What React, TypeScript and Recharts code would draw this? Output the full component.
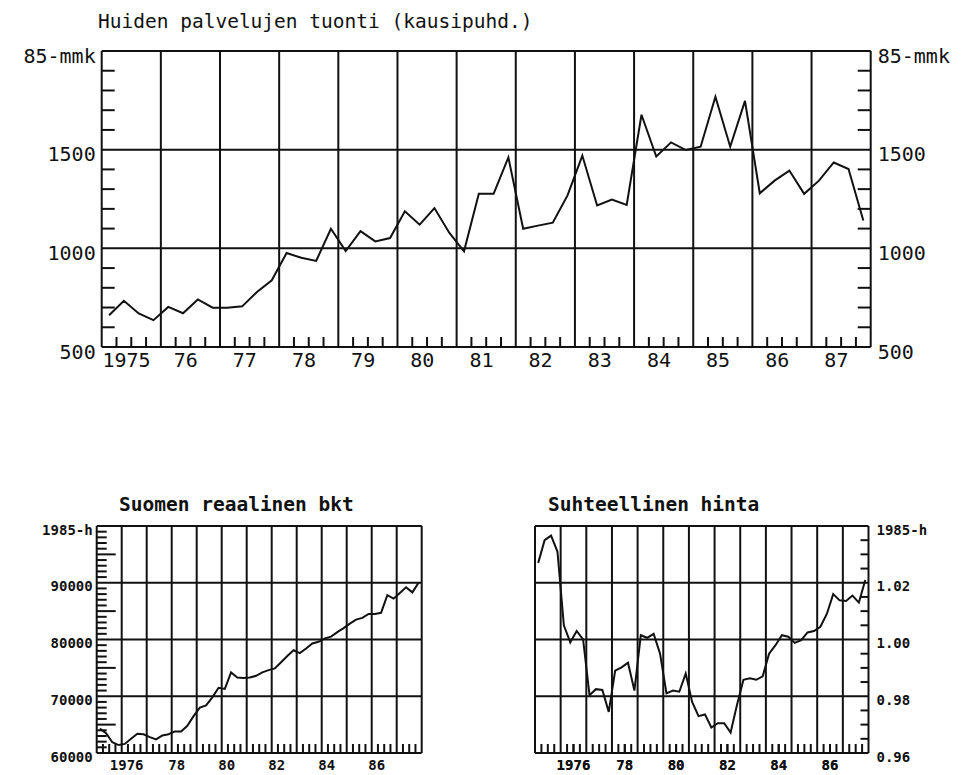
import React from "react"
import { LineChart, Line, XAxis, YAxis, ReferenceLine } from "recharts"

const FONT = '"DejaVu Sans Mono", "Liberation Mono", monospace'
const INK = "#111"

const years = [1975, 1976, 1977, 1978, 1979, 1980, 1981, 1982, 1983, 1984, 1985, 1986, 1987]
const yearEdges = [1975, 1976, 1977, 1978, 1979, 1980, 1981, 1982, 1983, 1984, 1985, 1986, 1987, 1988]
const topYearLabels = ["1975", "76", "77", "78", "79", "80", "81", "82", "83", "84", "85", "86", "87"]
const smallYears = [1976, 1978, 1980, 1982, 1984, 1986]
const smallYearLabels = ["1976", "78", "80", "82", "84", "86"]

// muiden palvelujen tuonti, 85-mmk, quarterly 1975-1987
const imports = [
  661, 734, 670, 636,
  703, 671, 741, 699,
  699, 706, 779, 838,
  976, 952, 936, 1099,
  986, 1087, 1035, 1052,
  1188, 1120, 1204, 1079,
  985, 1276, 1276, 1461,
  1099, 1115, 1130, 1268,
  1470, 1217, 1247, 1220,
  1677, 1465, 1537, 1498,
  1515, 1768, 1515, 1747,
  1279, 1343, 1394, 1276,
  1343, 1435, 1402, 1141,
]

// suomen reaalinen bkt, 1985-h
const gdp = [
  64300, 63500, 61900, 61400,
  61600, 62500, 63400, 63300,
  62800, 62400, 63100, 63300,
  63800, 63800, 64800, 66500,
  68000, 68400, 69800, 71500,
  71300, 74200, 73300, 73200,
  73300, 73600, 74200, 74600,
  74900, 76000, 77100, 78100,
  77600, 78400, 79300, 79600,
  80200, 80500, 81300, 82000,
  82800, 83500, 83800, 84500,
  84500, 84700, 87800, 87200,
  88200, 89200, 88300, 90000,
]

// suhteellinen hinta, 1985-h
const relPrice = [
  1.027, 1.035, 1.0366, 1.031,
  1.005, 0.999, 1.003, 1.0,
  0.9804, 0.9825, 0.9822, 0.9745,
  0.989, 0.9902, 0.9918, 0.982,
  1.0015, 1.0006, 1.002, 0.995,
  0.981, 0.982, 0.9816, 0.988,
  0.978, 0.973, 0.9736, 0.969,
  0.9705, 0.9705, 0.9672, 0.977,
  0.9858, 0.9863, 0.9858, 0.987,
  0.995, 0.998, 1.0015, 1.001,
  0.9988, 0.9998, 1.0025, 1.003,
  1.0045, 1.009, 1.016, 1.0138,
  1.0136, 1.0155, 1.013, 1.021,
]

const topYTicks = [500, 1000, 1500, 2000]
const topYLabels = ["500", "1000", "1500", "85-mmk"]
const gdpYTicks = [60000, 70000, 80000, 90000, 100000]
const gdpYLabels = ["60000", "70000", "80000", "90000", "1985-h"]
const priceYTicks = [0.96, 0.98, 1.0, 1.02, 1.04]
const priceYLabels = ["0.96", "0.98", "1.00", "1.02", "1985-h"]

const key = (v: number) => String(Math.round(v * 10000))

const quarterX = years.flatMap((y) => [0.125, 0.375, 0.625, 0.875].map((f) => y + f))
const quarterTicks = years.flatMap((y) => [0.25, 0.5, 0.75].map((f) => y + f))

const topData = quarterX.map((t, i) => ({ t, v: imports[i] }))
const gdpData = quarterX.map((t, i) => ({ t, v: gdp[i] }))
const priceData = quarterX.map((t, i) => ({ t, v: relPrice[i] }))

type Side = "left" | "right" | "bottom"

interface TickSpec {
  side: Side
  marks: Map<string, number>
  labels: Map<string, string>
  fontSize: number
  bold?: boolean
  gap: number
  shift: number
}

function tickRenderer(spec: TickSpec) {
  return (p: any) => {
    const k = key(p.payload.value)
    const len = spec.marks.get(k)
    const text = spec.labels.get(k)
    const x = p.x as number
    const y = p.y as number
    let line = null
    let label = null
    if (len) {
      if (spec.side === "left") line = <line x1={x} x2={x + len} y1={y} y2={y} stroke={INK} strokeWidth={2} />
      else if (spec.side === "right") line = <line x1={x} x2={x - len} y1={y} y2={y} stroke={INK} strokeWidth={2} />
      else line = <line x1={x} x2={x} y1={y} y2={y - len} stroke={INK} strokeWidth={2} />
    }
    if (text) {
      const common = {
        fontFamily: FONT,
        fontSize: spec.fontSize,
        fontWeight: spec.bold ? 700 : 400,
        fill: INK,
      }
      if (spec.side === "left")
        label = <text x={x - spec.gap} y={y + spec.shift} textAnchor="end" {...common}>{text}</text>
      else if (spec.side === "right")
        label = <text x={x + spec.gap} y={y + spec.shift} textAnchor="start" {...common}>{text}</text>
      else
        label = <text x={x} y={y + spec.shift} textAnchor="middle" {...common}>{text}</text>
    }
    return (
      <g>
        {line}
        {label}
      </g>
    )
  }
}

function mapOf<T>(vals: number[], out: T[]) {
  return new Map(vals.map((v, i) => [key(v), out[i]] as [string, T]))
}

// minor tick sequences along the value axes
function steps(from: number, to: number, step: number) {
  const n = Math.round((to - from) / step)
  return Array.from({ length: n + 1 }, (_, i) => from + i * step)
}

const topYSteps = steps(500, 2000, 100)
const topYMinor = topYSteps.filter((v) => v % 500 !== 0)
const topYMarks = mapOf(topYMinor, topYMinor.map(() => 13))
const topXLabelPos = years.map((y) => y + 0.42)
const topXTicks = [...quarterTicks, ...topXLabelPos].sort((a, b) => a - b)

const gdpYSteps = steps(60000, 100000, 1000)
const gdpYMinor = gdpYSteps.filter((v) => v % 10000 !== 0)
const gdpYMarks = mapOf(gdpYMinor, gdpYMinor.map((v) => (v % 5000 === 0 ? 19 : 10)))
const gdpXLabelPos = smallYears.map((y) => y + 0.2)
const gdpXTicks = [...quarterTicks, ...gdpXLabelPos].sort((a, b) => a - b)

const priceYSteps = steps(960, 1040, 5).map((v) => v / 1000)
const priceYMinor = priceYSteps.filter((v) => Math.round(v * 1000) % 20 !== 0)
const priceYMarks = mapOf(priceYMinor, priceYMinor.map(() => 8))
const priceXLabelPos = smallYears.map((y) => y + 0.5)
const priceXTicks = [...quarterTicks, ...priceXLabelPos].sort((a, b) => a - b)

const quarterMarks = (len: number) => mapOf(quarterTicks, quarterTicks.map(() => len))

export default function App() {
  const topLeft = tickRenderer({ side: "left", marks: topYMarks, labels: mapOf(topYTicks, topYLabels), fontSize: 20, gap: 6, shift: 11.5 })
  const topRight = tickRenderer({ side: "right", marks: topYMarks, labels: mapOf(topYTicks, topYLabels), fontSize: 20, gap: 7, shift: 11.5 })
  const topBottom = tickRenderer({ side: "bottom", marks: quarterMarks(10), labels: mapOf(topXLabelPos, topYearLabels), fontSize: 20, gap: 0, shift: 20 })

  const gdpLeft = tickRenderer({ side: "left", marks: gdpYMarks, labels: mapOf(gdpYTicks, gdpYLabels), fontSize: 14, bold: true, gap: 4, shift: 8.5 })
  const gdpBottom = tickRenderer({ side: "bottom", marks: quarterMarks(9), labels: mapOf(gdpXLabelPos, smallYearLabels), fontSize: 14, bold: true, gap: 0, shift: 17 })

  const priceRight = tickRenderer({ side: "right", marks: priceYMarks, labels: mapOf(priceYTicks, priceYLabels), fontSize: 14, bold: true, gap: 8, shift: 8.5 })
  const priceBottom = tickRenderer({ side: "bottom", marks: quarterMarks(9), labels: mapOf(priceXLabelPos, smallYearLabels), fontSize: 14, bold: true, gap: 0, shift: 17 })

  const axisCommon = { tickLine: false, axisLine: false, tickSize: 0, tickMargin: 0, interval: 0 as const, allowDataOverflow: true }

  return (
    <div style={{ position: "absolute", left: 0, top: 0, width: 972, height: 775, background: "#fff" }}>
      <svg width={972} height={775} style={{ position: "absolute", left: 0, top: 0 }}>
        <text x={98} y={28} fontFamily={FONT} fontSize={19.5} fill={INK}>
          Huiden palvelujen tuonti (kausipuhd.)
        </text>
        <text x={119} y={511} fontFamily={FONT} fontSize={19.5} fontWeight={700} fill={INK}>
          Suomen reaalinen bkt
        </text>
        <text x={548} y={511} fontFamily={FONT} fontSize={19.5} fontWeight={700} fill={INK}>
          Suhteellinen hinta
        </text>
      </svg>

      <div style={{ position: "absolute", left: 0, top: 0 }}>
        <LineChart width={972} height={400} data={topData} margin={{ top: 51, left: 100.7, right: 100.3, bottom: 52 }}>
          <XAxis xAxisId="x" type="number" dataKey="t" domain={[1975, 1988]} ticks={topXTicks} tick={topBottom} height={1} {...axisCommon} />
          <YAxis yAxisId="l" type="number" domain={[500, 2000]} ticks={topYSteps} tick={topLeft} width={1} {...axisCommon} />
          <YAxis yAxisId="r" orientation="right" type="number" domain={[500, 2000]} ticks={topYSteps} tick={topRight} width={1} {...axisCommon} />
          {yearEdges.map((e) => (
            <ReferenceLine key={`v${e}`} xAxisId="x" yAxisId="l" x={e} stroke={INK} strokeWidth={2} />
          ))}
          {topYTicks.map((v) => (
            <ReferenceLine key={`h${v}`} xAxisId="x" yAxisId="l" y={v} stroke={INK} strokeWidth={2} />
          ))}
          <Line xAxisId="x" yAxisId="l" type="linear" dataKey="v" stroke={INK} strokeWidth={2} dot={false} isAnimationActive={false} />
        </LineChart>
      </div>

      <div style={{ position: "absolute", left: 0, top: 460 }}>
        <LineChart width={486} height={315} data={gdpData} margin={{ top: 66, left: 95.7, right: 64.3, bottom: 21 }}>
          <XAxis xAxisId="x" type="number" dataKey="t" domain={[1975, 1988]} ticks={gdpXTicks} tick={gdpBottom} height={1} {...axisCommon} />
          <YAxis yAxisId="l" type="number" domain={[60000, 100000]} ticks={gdpYSteps} tick={gdpLeft} width={1} {...axisCommon} />
          {yearEdges.map((e) => (
            <ReferenceLine key={`v${e}`} xAxisId="x" yAxisId="l" x={e} stroke={INK} strokeWidth={2} />
          ))}
          {gdpYTicks.map((v) => (
            <ReferenceLine key={`h${v}`} xAxisId="x" yAxisId="l" y={v} stroke={INK} strokeWidth={2} />
          ))}
          <Line xAxisId="x" yAxisId="l" type="linear" dataKey="v" stroke={INK} strokeWidth={2} dot={false} isAnimationActive={false} />
        </LineChart>
      </div>

      <div style={{ position: "absolute", left: 486, top: 460 }}>
        <LineChart width={486} height={315} data={priceData} margin={{ top: 66, left: 49, right: 102.5, bottom: 21 }}>
          <XAxis xAxisId="x" type="number" dataKey="t" domain={[1975, 1988]} ticks={priceXTicks} tick={priceBottom} height={1} {...axisCommon} />
          <YAxis yAxisId="r" orientation="right" type="number" domain={[0.96, 1.04]} ticks={priceYSteps} tick={priceRight} width={1} {...axisCommon} />
          {yearEdges.map((e) => (
            <ReferenceLine key={`v${e}`} xAxisId="x" yAxisId="r" x={e} stroke={INK} strokeWidth={2} />
          ))}
          {priceYTicks.map((v) => (
            <ReferenceLine key={`h${v}`} xAxisId="x" yAxisId="r" y={v} stroke={INK} strokeWidth={2} />
          ))}
          <Line xAxisId="x" yAxisId="r" type="linear" dataKey="v" stroke={INK} strokeWidth={2} dot={false} isAnimationActive={false} />
        </LineChart>
      </div>
    </div>
  )
}
